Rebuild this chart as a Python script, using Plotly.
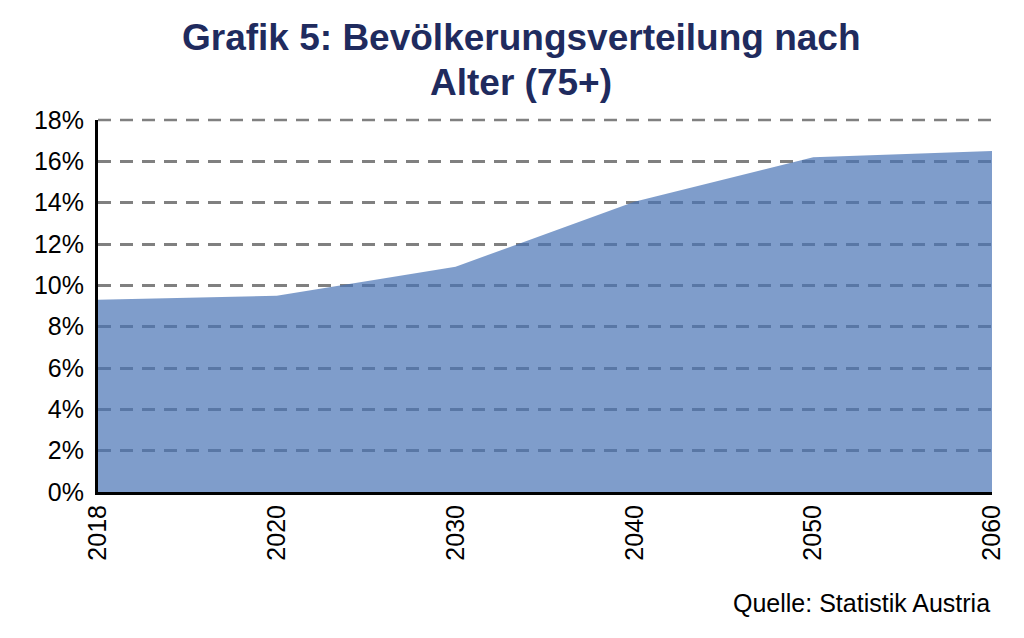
import plotly.graph_objects as go

years = ["2018", "2020", "2030", "2040", "2050", "2060"]
share_75plus = [9.3, 9.5, 10.9, 14.05, 16.2, 16.5]
y_ticks = [0, 2, 4, 6, 8, 10, 12, 14, 16, 18]
y_tick_labels = [f"{v}%" for v in y_ticks]
title_lines = ["Grafik 5: Bevölkerungsverteilung nach", "Alter (75+)"]
source_text = "Quelle: Statistik Austria"

PLOT_H = 372
BOTTOM = 146


def py(px_from_top):
    return (638 - BOTTOM - px_from_top) / PLOT_H


title_font = dict(family="Liberation Sans Narrow, Arial Narrow, Liberation Sans, Arial",
                  size=37, color="#1f2b5e", weight="bold")

fig = go.Figure()
fig.add_trace(go.Scatter(
    x=years, y=share_75plus, mode="lines", fill="tozeroy",
    line=dict(width=0, color="rgba(72,116,181,0.7)"),
    fillcolor="rgba(72,116,181,0.7)", hoverinfo="x+y", showlegend=False,
))

fig.update_layout(
    width=1024, height=638,
    margin=dict(l=98, r=32, t=120, b=BOTTOM),
    paper_bgcolor="white", plot_bgcolor="white",
    font=dict(family="Liberation Sans, Arial", size=25, color="black"),
    annotations=[
        dict(text=title_lines[0], xref="paper", yref="paper", x=(521 - 98) / 894, y=py(38),
             xanchor="center", yanchor="middle", showarrow=False, font=title_font),
        dict(text=title_lines[1], xref="paper", yref="paper", x=(521 - 98) / 894, y=py(82),
             xanchor="center", yanchor="middle", showarrow=False, font=title_font),
        dict(text=source_text, xref="paper", yref="paper",
             x=1, y=py(603), xanchor="right", yanchor="middle", showarrow=False,
             font=dict(family="Liberation Sans, Arial", size=25, color="black")),
    ],
    # top (18%) gridline, which Plotly omits at the plot edge
    shapes=[dict(type="line", xref="paper", yref="paper", x0=0, x1=1, y0=1, y1=1,
                 layer="below", line=dict(color="#808080", width=2.5, dash="13px,9px"))],
)
fig.update_xaxes(
    type="category", range=[0, 5], tickangle=-90, showgrid=False,
    showline=True, linecolor="black", linewidth=3, ticks="", zeroline=False,
    tickfont=dict(size=25),
)
fig.update_yaxes(
    range=[0, y_ticks[-1]], tickvals=y_ticks, ticktext=y_tick_labels,
    showgrid=True, gridcolor="#808080", gridwidth=2.5, griddash="13px,9px",
    showline=True, linecolor="black", linewidth=3, ticks="", zeroline=False,
    tickfont=dict(size=25), ticklabelstandoff=6,
)

fig.write_html("out.html", config={"displayModeBar": False},
               post_script="document.body.style.margin='0';")
